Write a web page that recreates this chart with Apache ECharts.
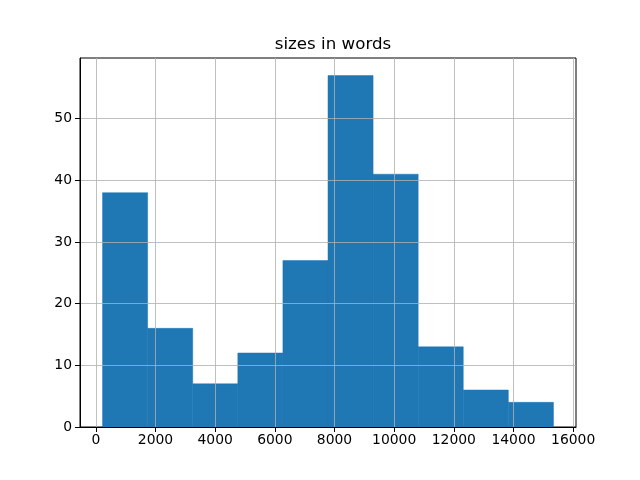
<!DOCTYPE html>
<html>
<head>
<meta charset="utf-8">
<script src="https://cdn.jsdelivr.net/npm/echarts@6/dist/echarts.min.js"></script>
<style>html,body{margin:0;padding:0;background:#fff}#c{width:640px;height:480px}</style>
</head>
<body>
<div id="c"></div>
<script>
const binEdges = [226, 1737, 3248, 4760, 6271, 7782, 9293, 10804, 12315, 13826, 15338];
const counts = [38, 16, 7, 12, 27, 57, 41, 13, 6, 4];
const xTicks = [0, 2000, 4000, 6000, 8000, 10000, 12000, 14000, 16000];
const yTicks = [0, 10, 20, 30, 40, 50];

const data = counts.map((c, i) => [binEdges[i], binEdges[i + 1], c]);
const font = 'DejaVu Sans';
const chart = echarts.init(document.getElementById('c'), null, {renderer: 'canvas'});
chart.setOption({
  animation: false,
  backgroundColor: '#fff',
  title: {
    text: 'sizes in words', left: 328, top: 31, textAlign: 'center',
    textStyle: {fontFamily: font, fontSize: 16.67, fontWeight: 'normal', color: '#000'}
  },
  grid: {left: 80, right: 64, top: 58, bottom: 53, show: true, borderColor: '#000', borderWidth: 1, backgroundColor: 'transparent'},
  xAxis: {
    type: 'value', min: -530, max: 16094, z: 10,
    axisLine: {show: true, onZero: false, lineStyle: {color: '#000', width: 1}},
    axisTick: {show: true, customValues: xTicks, length: 5, lineStyle: {color: '#000', width: 1}},
    axisLabel: {customValues: xTicks, formatter: v => String(v), color: '#000', fontFamily: font, fontSize: 13.9, margin: 6, showMinLabel: true, showMaxLabel: true},
    splitLine: {show: true, lineStyle: {color: '#b0b0b0', width: 0.8}}
  },
  yAxis: {
    type: 'value', min: 0, max: 59.85, z: 10,
    axisLine: {show: true, onZero: false, lineStyle: {color: '#000', width: 1}},
    axisTick: {show: true, customValues: yTicks, length: 5, lineStyle: {color: '#000', width: 1}},
    axisLabel: {customValues: yTicks, formatter: v => String(v), color: '#000', fontFamily: font, fontSize: 13.9, margin: 8},
    splitLine: {show: true, lineStyle: {color: '#b0b0b0', width: 0.8}}
  },
  series: [{
    type: 'custom',
    data: data,
    renderItem: function (params, api) {
      const p0 = api.coord([api.value(0), api.value(2)]);
      const p1 = api.coord([api.value(1), 0]);
      return {
        type: 'rect',
        shape: {x: p0[0], y: p0[1], width: p1[0] - p0[0], height: p1[1] - p0[1]},
        style: {fill: '#1f77b4', stroke: '#1f77b4', lineWidth: 0.5}
      };
    },
    encode: {x: [0, 1], y: 2}
  }]
});
</script>
</body>
</html>
